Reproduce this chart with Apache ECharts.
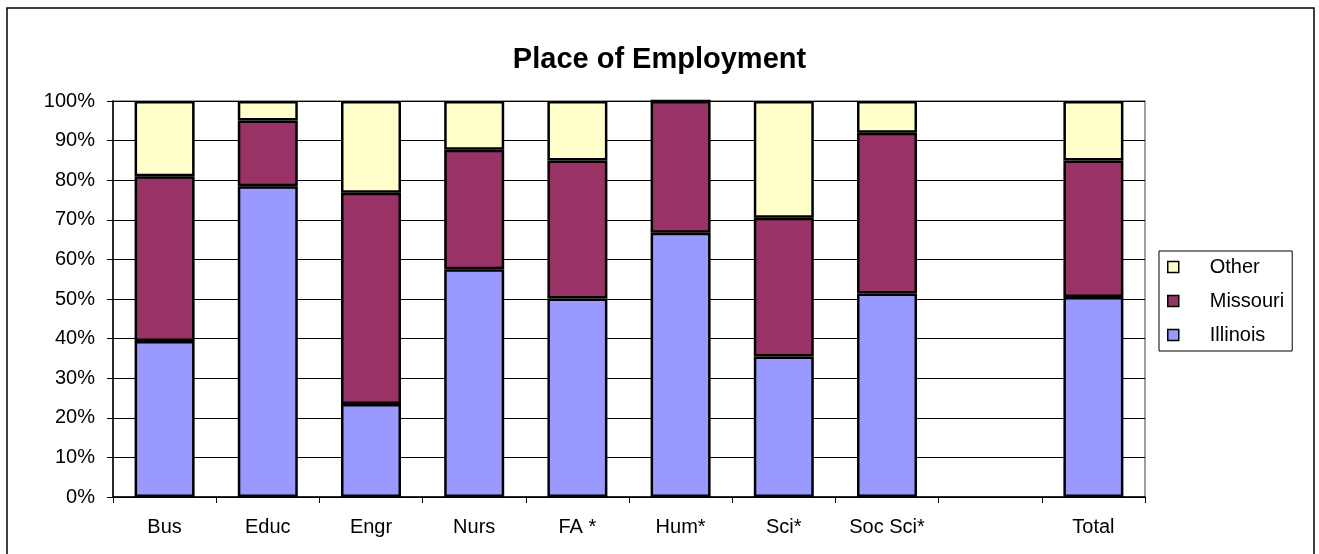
<!DOCTYPE html>
<html>
  <head>
    <meta charset="UTF-8">
    <title>Place of Employment</title>
    <script src="https://cdn.jsdelivr.net/npm/echarts@6/dist/echarts.min.js"></script>
    <style>
      html, body {margin: 0; padding: 0; background: #fff;}
    </style>
  </head>
  <body>
    <div id="box" style="width:1319px;height:554px"></div>
    <script>
        // categories (the 9th slot is an empty gap in the original)
        var categories = ['Bus', 'Educ', 'Engr', 'Nurs', 'FA *', 'Hum*', 'Sci*', 'Soc Sci*', '', 'Total'];
        // share of graduates per state, percent
        var illinois = [39.4, 78.5, 23.5, 57.5, 50.1, 66.7, 35.5, 51.4, '-', 50.5];
        var missouri = [41.6, 16.6, 53.3, 30.2, 34.9, 33.3, 35.0, 40.6, '-', 34.5];
        var other    = [19.0,  4.9, 23.2, 12.3, 15.0,  0.0, 29.5,  8.0, '-', 15.0];
        var yTicks = [0, 10, 20, 30, 40, 50, 60, 70, 80, 90, 100];

        var font = 'Arial, "Liberation Sans", sans-serif';
        var myChart = echarts.init(document.getElementById('box'));

        function bar(name, data, color) {
            return {
                name: name,
                type: 'bar',
                stack: 'all',
                barWidth: 60,
                data: data,
                itemStyle: {color: color, borderColor: '#000', borderWidth: 2.5},
                emphasis: {disabled: true}
            };
        }

        myChart.setOption({
            animation: false,
            title: {
                text: 'Place of Employment',
                left: 'center',
                top: 40,
                textStyle: {fontFamily: font, fontSize: 29, fontWeight: 'bold', color: '#000'}
            },
            graphic: [{
                type: 'rect',
                shape: {x: 7, y: 8, width: 1307, height: 560},
                style: {fill: 'none', stroke: '#000', lineWidth: 1.5},
                silent: true
            }],
            legend: {
                orient: 'vertical',
                left: 1159,
                top: 251,
                padding: [6, 8, 6, 8],
                itemGap: 14,
                itemWidth: 11,
                itemHeight: 11,
                icon: 'rect',
                borderColor: '#000',
                borderWidth: 1,
                data: ['Other', 'Missouri', 'Illinois'],
                itemStyle: {borderColor: '#000', borderWidth: 1.5},
                textStyle: {fontFamily: font, fontSize: 20, color: '#000', padding: [0, 0, 0, 26]}
            },
            grid: {
                left: 113, right: 174, top: 101, bottom: 57,
                show: true, borderColor: '#808080', borderWidth: 1.5
            },
            xAxis: {
                type: 'category',
                data: categories,
                axisLine: {lineStyle: {color: '#000', width: 1.5}},
                axisTick: {show: true, interval: 0, length: 6, lineStyle: {color: '#000'}},
                axisLabel: {interval: 0, margin: 20, fontFamily: font, fontSize: 20, color: '#000'}
            },
            yAxis: {
                type: 'value',
                min: yTicks[0],
                max: yTicks[yTicks.length - 1],
                interval: 10,
                axisLine: {show: true, lineStyle: {color: '#000', width: 1.5}},
                axisTick: {show: true, length: 6, lineStyle: {color: '#000'}},
                splitLine: {lineStyle: {color: '#000', width: 1}},
                axisLabel: {margin: 18, fontFamily: font, fontSize: 20, color: '#000', formatter: '{value}%'}
            },
            series: [
                bar('Illinois', illinois, '#9999FF'),
                bar('Missouri', missouri, '#993366'),
                bar('Other', other, '#FFFFCC')
            ]
        });
    </script>
  </body>
</html>
